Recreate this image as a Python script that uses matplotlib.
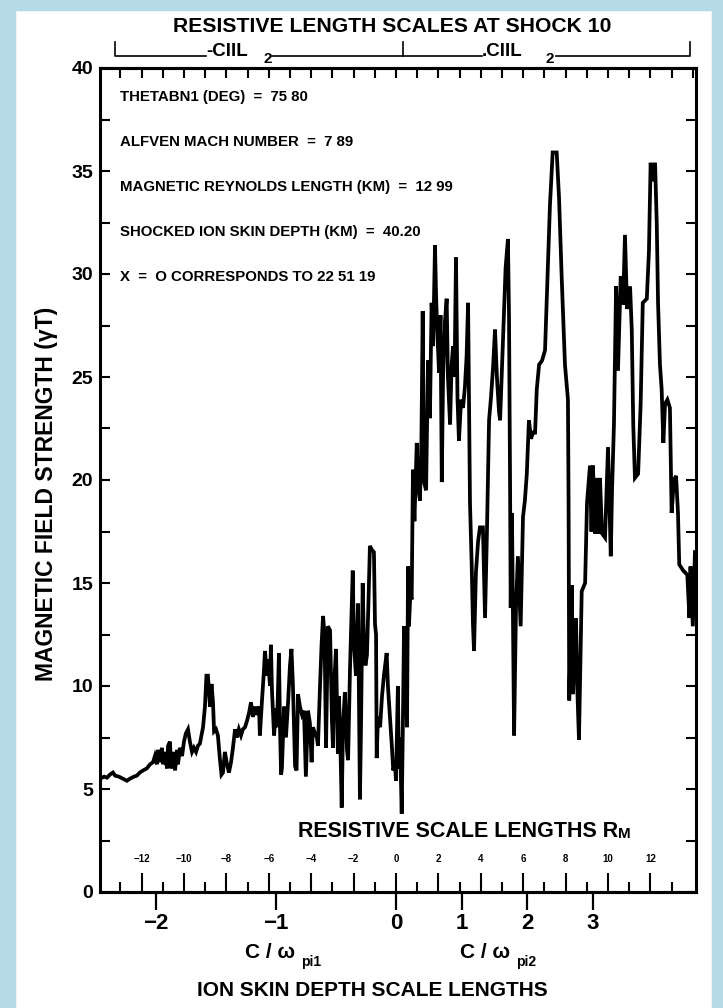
import numpy as np
import matplotlib.pyplot as plt
from matplotlib.patches import Rectangle

plt.rcParams['font.family'] = ['Liberation Sans Narrow', 'Liberation Sans', 'DejaVu Sans']
plt.rcParams['font.weight'] = 'bold'

# magnetic field profile across shock 10, x in resistive scale lengths
rm = [-13.96, -13.77, -13.63, -13.49, -13.35, -13.25, -13.07, -12.88, -12.69, -12.55,
      -12.36, -12.22, -12.08, -11.93, -11.75, -11.60, -11.46, -11.37, -11.27, -11.23,
      -11.13, -11.04, -10.99, -10.90, -10.80, -10.75, -10.66, -10.61, -10.52, -10.42,
      -10.33, -10.28, -10.19, -10.09, -10.00, -9.91, -9.81, -9.72, -9.62, -9.53,
      -9.43, -9.34, -9.25, -9.10, -9.01, -8.94, -8.87, -8.77, -8.70, -8.63,
      -8.58, -8.49, -8.40, -8.30, -8.23, -8.16, -8.07, -7.97, -7.88, -7.78,
      -7.69, -7.59, -7.50, -7.41, -7.31, -7.22, -7.12, -7.03, -6.93, -6.84,
      -6.75, -6.65, -6.56, -6.46, -6.42, -6.32, -6.23, -6.18, -6.08, -6.04,
      -5.94, -5.90, -5.85, -5.80, -5.75, -5.66, -5.61, -5.52, -5.47, -5.42,
      -5.38, -5.28, -5.19, -5.09, -5.00, -4.93, -4.86, -4.76, -4.69, -4.62,
      -4.53, -4.43, -4.34, -4.25, -4.15, -4.06, -3.98, -3.92, -3.82, -3.73,
      -3.68, -3.58, -3.51, -3.44, -3.37, -3.30, -3.21, -3.11, -3.02, -2.97,
      -2.92, -2.83, -2.74, -2.69, -2.64, -2.56, -2.50, -2.41, -2.31, -2.26,
      -2.17, -2.04, -1.98, -1.89, -1.79, -1.75, -1.70, -1.65, -1.57, -1.51,
      -1.44, -1.37, -1.30, -1.23, -1.13, -1.04, -0.99, -0.94, -0.91, -0.85,
      -0.75, -0.66, -0.57, -0.44, -0.38, -0.28, -0.19, -0.13, -0.05, 0.00,
      0.09, 0.14, 0.19, 0.27, 0.33, 0.38, 0.45, 0.52, 0.57, 0.61,
      0.68, 0.74, 0.80, 0.87, 0.98, 1.04, 1.13, 1.20, 1.26, 1.32,
      1.42, 1.51, 1.60, 1.68, 1.75, 1.84, 1.89, 1.93, 2.03, 2.10,
      2.16, 2.22, 2.31, 2.39, 2.45, 2.55, 2.62, 2.69, 2.76, 2.83,
      2.90, 2.97, 3.07, 3.16, 3.25, 3.33, 3.40, 3.49, 3.57, 3.63,
      3.68, 3.77, 3.87, 3.96, 4.10, 4.20, 4.29, 4.39, 4.48, 4.58,
      4.67, 4.76, 4.86, 4.91, 5.05, 5.17, 5.28, 5.33, 5.38, 5.41,
      5.47, 5.57, 5.66, 5.75, 5.88, 5.99, 6.08, 6.17, 6.27, 6.37,
      6.46, 6.56, 6.64, 6.75, 6.89, 7.03, 7.12, 7.26, 7.39, 7.58,
      7.69, 7.82, 7.97, 8.11, 8.14, 8.17, 8.29, 8.35, 8.49, 8.56,
      8.63, 8.76, 8.92, 9.01, 9.15, 9.22, 9.29, 9.39, 9.48, 9.55,
      9.62, 9.72, 9.86, 9.95, 10.00, 10.13, 10.19, 10.28, 10.38, 10.47,
      10.60, 10.71, 10.80, 10.90, 11.04, 11.12, 11.19, 11.27, 11.42, 11.54,
      11.64, 11.83, 11.93, 12.01, 12.12, 12.22, 12.30, 12.36, 12.45, 12.53,
      12.61, 12.69, 12.80, 12.92, 13.00, 13.11, 13.21, 13.30, 13.36, 13.55,
      13.74, 13.84, 13.89, 14.00, 14.10]

bfield = [5.5, 5.6, 5.55, 5.7, 5.8, 5.65, 5.6, 5.5, 5.4, 5.5,
          5.6, 5.65, 5.8, 5.9, 6.0, 6.2, 6.3, 6.6, 6.2, 6.9,
          6.3, 7.0, 6.2, 6.8, 6.0, 7.1, 7.3, 6.0, 6.8, 5.9,
          6.9, 6.2, 7.0, 6.6, 7.3, 7.7, 7.9, 7.3, 6.8, 7.0,
          6.8, 7.1, 7.2, 8.0, 9.0, 10.5, 10.5, 9.0, 10.1, 9.2,
          7.8, 7.9, 7.6, 6.4, 5.7, 5.8, 6.8, 6.2, 5.8, 6.3,
          7.0, 7.9, 7.5, 7.9, 7.6, 7.9, 8.0, 8.3, 8.7, 9.2,
          8.5, 9.0, 8.6, 9.0, 7.6, 9.3, 10.7, 11.7, 10.5, 11.3,
          10.0, 12.0, 9.8, 8.7, 7.6, 8.9, 8.0, 11.6, 8.0, 5.7,
          6.0, 9.0, 7.5, 9.2, 11.0, 11.8, 10.0, 6.1, 5.9, 9.6,
          9.0, 8.6, 8.8, 5.6, 8.8, 8.2, 6.3, 8.0, 7.7, 7.5,
          7.1, 10.1, 12.0, 13.4, 12.5, 7.0, 12.9, 12.7, 8.3, 7.0,
          10.0, 11.8, 6.7, 9.5, 8.0, 4.1, 8.0, 9.7, 6.9, 6.4,
          10.8, 15.6, 12.0, 10.5, 14.0, 10.0, 4.5, 8.0, 15.0, 12.0,
          11.0, 11.5, 14.0, 16.8, 16.6, 16.5, 13.0, 12.5, 6.5, 8.5,
          8.0, 9.5, 10.5, 11.6, 10.0, 8.4, 7.0, 5.9, 6.2, 5.4,
          10.0, 6.0, 7.5, 3.8, 8.5, 12.9, 11.5, 8.0, 15.8, 12.9,
          14.5, 14.2, 20.5, 18.0, 21.8, 19.7, 19.0, 22.0, 28.2, 19.9,
          19.5, 25.8, 23.0, 28.6, 26.5, 31.4, 29.0, 27.7, 25.2, 28.0,
          19.9, 25.0, 27.7, 28.8, 25.0, 22.7, 25.5, 26.5, 25.0, 30.8,
          24.0, 21.9, 23.9, 23.5, 24.5, 26.0, 28.6, 18.9, 15.9, 13.0,
          11.7, 15.5, 17.0, 17.7, 17.7, 13.3, 17.5, 22.9, 24.0, 25.5,
          27.3, 25.0, 23.3, 22.9, 26.9, 30.3, 31.7, 28.0, 19.9, 13.8,
          18.4, 7.6, 13.8, 16.3, 12.9, 18.2, 19.0, 20.3, 22.9, 22.0,
          22.3, 22.3, 24.4, 25.6, 25.8, 26.3, 29.0, 33.3, 35.9, 35.9,
          33.7, 29.7, 25.6, 23.9, 19.0, 9.3, 14.9, 9.6, 13.3, 9.6,
          7.4, 14.6, 15.0, 18.9, 20.7, 17.5, 20.7, 17.4, 20.1, 17.4,
          20.1, 17.4, 17.2, 20.1, 21.6, 16.3, 19.5, 22.7, 29.4, 25.3,
          29.9, 28.5, 31.9, 28.3, 29.4, 27.3, 22.7, 20.1, 20.3, 23.7,
          28.6, 28.8, 31.1, 35.4, 34.5, 35.4, 32.4, 28.6, 25.6, 24.4,
          21.8, 23.7, 23.9, 23.5, 18.4, 20.0, 20.2, 18.4, 15.9, 15.6,
          15.4, 13.3, 15.8, 12.9, 16.5]

header_lines = ["THETABN1 (DEG)  =  75 80",
                "ALFVEN MACH NUMBER  =  7 89",
                "MAGNETIC REYNOLDS LENGTH (KM)  =  12 99",
                "SHOCKED ION SKIN DEPTH (KM)  =  40.20",
                "X  =  O CORRESPONDS TO 22 51 19"]

y_ticks = [0, 5, 10, 15, 20, 25, 30, 35, 40]
y_minor = [2.5, 7.5, 12.5, 17.5, 22.5, 27.5, 32.5, 37.5]
rm_ticks = [-12, -10, -8, -6, -4, -2, 0, 2, 4, 6, 8, 10, 12]
rm_minor = [-13, -11, -9, -7, -5, -3, -1, 1, 3, 5, 7, 9, 11, 13]
rm_top = list(range(-13, 15))
ion_ticks = [-2, -1, 0, 1, 2, 3]

# ion skin depth in resistive lengths, upstream and downstream of the ramp
up_ratio = 5.66
down_ratio = 40.20 / 12.99


def rm_to_ion(x):
    x = np.asarray(x, dtype=float)
    return np.where(x < 0, x / up_ratio, x / down_ratio)


def ion_to_rm(d):
    d = np.asarray(d, dtype=float)
    return np.where(d < 0, d * up_ratio, d * down_ratio)


def minus(v):
    return str(v).replace('-', '\u2212')


W, H = 723, 1008
fig = plt.figure(figsize=(W / 100, H / 100), dpi=100)
fig.patch.set_facecolor('white')
blue = '#b5dbe7'
fig.patches.append(Rectangle((0, 0), 15 / W, 1, transform=fig.transFigure, color=blue, zorder=0))
fig.patches.append(Rectangle((0, 1 - 10 / H), 1, 10 / H, transform=fig.transFigure, color=blue, zorder=0))
fig.patches.append(Rectangle((712 / W, 0), 11 / W, 1, transform=fig.transFigure, color=blue, zorder=0))

ax = fig.add_axes([100 / W, 1 - 892 / H, 596 / W, 824 / H])
ax.plot(rm, bfield, color='black', lw=2.7, solid_joinstyle='miter')
ax.set_xlim(-13.96, 14.15)
ax.set_ylim(0, 40)
for s in ax.spines.values():
    s.set_linewidth(2.2)

# y axis
ax.set_yticks(y_ticks)
ax.set_yticks(y_minor, minor=True)
ax.tick_params(axis='y', which='both', direction='in', length=7, width=1.5,
               left=True, right=True, labelsize=14, pad=5)
for lab in ax.get_yticklabels():
    lab.set_family(['Liberation Sans', 'DejaVu Sans'])

# resistive scale lengths, labels inside the frame
ax.set_xticks(rm_ticks)
ax.set_xticklabels([minus(v) for v in rm_ticks])
ax.set_xticks(rm_minor, minor=True)
ax.tick_params(axis='x', which='major', direction='in', length=14, width=1.5,
               labelsize=7, pad=-27)
ax.tick_params(axis='x', which='minor', direction='in', length=7, width=1.5)
for lab in ax.get_xticklabels():
    lab.set_family(['Liberation Sans', 'DejaVu Sans'])

top = ax.secondary_xaxis('top')
top.set_xticks(rm_top)
top.tick_params(direction='in', length=7, width=1.5, labeltop=False)
top.spines['top'].set_linewidth(2.2)

# ion skin depth scale below the frame
ion = ax.secondary_xaxis('bottom', functions=(rm_to_ion, ion_to_rm))
ion.set_xticks(ion_ticks)
ion.set_xticklabels([minus(v) for v in ion_ticks])
ion.tick_params(direction='out', length=13, width=1.6, labelsize=16, pad=2)
ion.spines['bottom'].set_linewidth(2.2)
for lab in ion.get_xticklabels():
    lab.set_family(['Liberation Sans', 'DejaVu Sans'])

# parameter block
for i, line in enumerate(header_lines):
    ax.text(0.034, 0.965 - i * 0.0546, line, transform=ax.transAxes,
            fontsize=10.8, va='center', ha='left')

t = ax.text(0.332, 0.073, "RESISTIVE SCALE LENGTHS R", transform=ax.transAxes,
            fontsize=15.5, va='center', ha='left')
ax.annotate("M", xy=(1, 0.05), xycoords=t, fontsize=11, va='bottom', ha='left')

# bracket over the frame
tr = ax.get_xaxis_transform()
y_line = (892 - 56) / 824
y_up = (892 - 42) / 824
kw = dict(color='black', lw=1.2, transform=tr, clip_on=False)
ax.plot([-13.25, -13.25, -8.96], [y_up, y_line, y_line], **kw)
ax.plot([-5.85, 0.33, 0.33], [y_line, y_line, y_up], **kw)
ax.plot([0.33, 4.06], [y_line, y_line], **kw)
ax.plot([7.55, 13.87, 13.87], [y_line, y_line, y_up], **kw)
ax.text(-8.96, (892 - 51) / 824, "-CIIL", transform=tr, fontsize=13.5, va='center', ha='left')
ax.text(-6.25, (892 - 59) / 824, "2", transform=tr, fontsize=11, va='center', ha='left')
ax.text(4.06, (892 - 51) / 824, ".CIIL", transform=tr, fontsize=13.5, va='center', ha='left')
ax.text(7.05, (892 - 59) / 824, "2", transform=tr, fontsize=11, va='center', ha='left')

fig.text(392 / W, 1 - 27 / H, "RESISTIVE LENGTH SCALES AT SHOCK 10",
         fontsize=15.2, ha='center', va='center')
fig.text(47 / W, 1 - 494 / H, "MAGNETIC FIELD STRENGTH (\u03b3T)", rotation=90,
         fontsize=16.5, ha='center', va='center')

fig.text(245 / W, 1 - 952 / H, "C / \u03c9", fontsize=15, ha='left', va='center')
fig.text(301 / W, 1 - 962 / H, "pi1", fontsize=10, ha='left', va='center')
fig.text(460 / W, 1 - 952 / H, "C / \u03c9", fontsize=15, ha='left', va='center')
fig.text(516 / W, 1 - 962 / H, "pi2", fontsize=10, ha='left', va='center')
fig.text(372 / W, 1 - 990 / H, "ION SKIN DEPTH SCALE LENGTHS",
         fontsize=15, ha='center', va='center')

fig.savefig("out.png", dpi=100)
